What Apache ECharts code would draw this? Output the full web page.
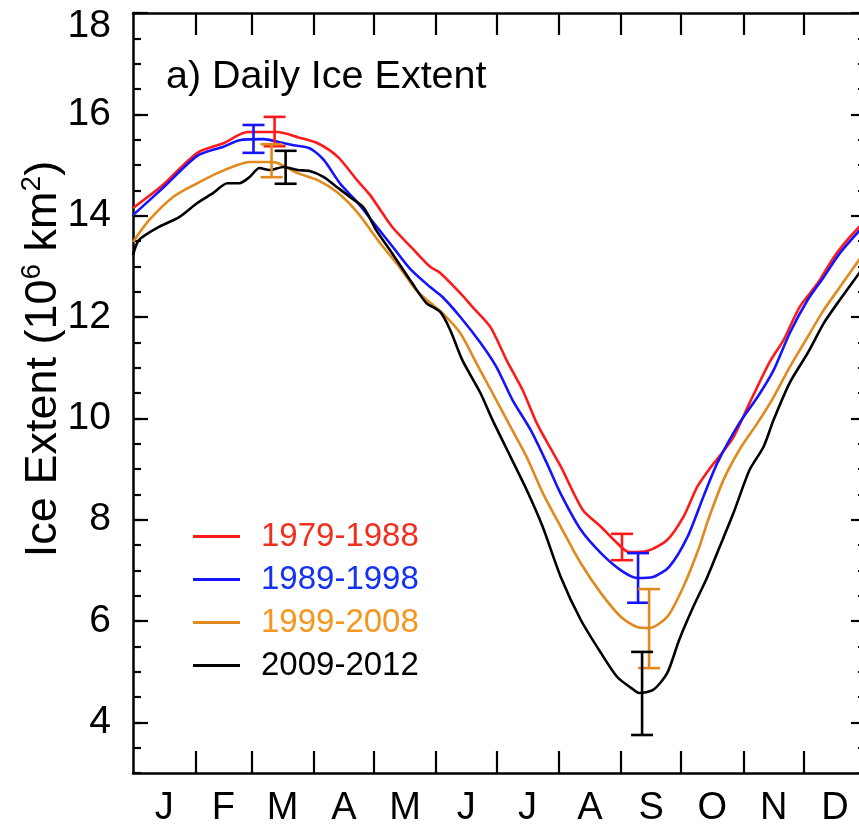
<!DOCTYPE html>
<html>
<head>
<meta charset="utf-8">
<script src="https://cdn.jsdelivr.net/npm/echarts@6/dist/echarts.min.js"></script>
<style>
  html, body { margin: 0; padding: 0; background: #fff; }
  #chart { width: 859px; height: 826px; }
</style>
</head>
<body>
<div id="chart"></div>
<script>
// Daily sea-ice extent climatology (10^6 km^2) by decade, day of year on x.
const FONT = '"Liberation Sans", Arial, Helvetica, sans-serif';

const monthLetters = ['J', 'F', 'M', 'A', 'M', 'J', 'J', 'A', 'S', 'O', 'N', 'D'];
const monthStartDays = [31, 59, 90, 120, 151, 181, 212, 243, 273, 304, 334];
const monthMidDays = [15.5, 45, 74.5, 105, 135.5, 166, 196.5, 227.5, 258, 288.5, 319, 349.5];
const yMajorTicks = [4, 6, 8, 10, 12, 14, 16, 18];

const seriesNames = ['1979-1988', '1989-1998', '1999-2008', '2009-2012'];

const days_1979_1988 = [0, 15, 32, 45, 57, 72, 82, 92, 102, 112, 118, 129, 139, 148, 153, 163, 169, 178, 186, 194, 201, 208, 213, 224, 233, 241, 247, 256, 266, 274, 281, 287, 292, 299, 307, 317, 324, 332, 341, 349, 357, 365];
const extent_1979_1988 = [14.15, 14.61, 15.24, 15.43, 15.65, 15.65, 15.55, 15.43, 15.16, 14.68, 14.41, 13.78, 13.36, 12.99, 12.87, 12.47, 12.20, 11.80, 11.15, 10.56, 9.91, 9.40, 9.05, 8.19, 7.86, 7.54, 7.36, 7.38, 7.60, 8.05, 8.65, 9.00, 9.25, 9.63, 10.30, 11.11, 11.55, 12.20, 12.67, 13.18, 13.58, 13.92];

const days_1989_1998 = [0, 15, 32, 45, 53, 65, 73, 80, 88, 95, 103, 112, 118, 123, 129, 138, 148, 154, 163, 173, 181, 189, 198, 206, 213, 223, 233, 243, 251, 259, 267, 276, 284, 291, 302, 311, 319, 327, 336, 344, 352, 365];
const extent_1989_1998 = [14.01, 14.55, 15.18, 15.36, 15.49, 15.51, 15.45, 15.39, 15.33, 15.10, 14.64, 14.25, 13.95, 13.70, 13.40, 12.95, 12.59, 12.40, 12.00, 11.49, 11.01, 10.36, 9.77, 9.12, 8.51, 7.80, 7.34, 7.00, 6.85, 6.87, 7.07, 7.65, 8.45, 9.12, 9.91, 10.42, 10.95, 11.68, 12.34, 12.79, 13.26, 13.85];

const days_1999_2008 = [0, 8, 20, 32, 42, 52, 58, 67, 72, 82, 92, 102, 112, 123, 133, 141, 148, 154, 163, 171, 179, 188, 196, 204, 213, 223, 233, 243, 251, 257, 266, 274, 282, 286, 294, 302, 311, 319, 327, 336, 344, 352, 365];
const extent_1999_2008 = [13.48, 13.91, 14.37, 14.64, 14.84, 15.00, 15.06, 15.06, 15.04, 14.84, 14.70, 14.45, 14.05, 13.46, 12.97, 12.53, 12.28, 12.08, 11.68, 11.09, 10.50, 9.83, 9.24, 8.53, 7.86, 7.14, 6.55, 6.08, 5.88, 5.86, 6.08, 6.67, 7.46, 7.95, 8.78, 9.38, 9.91, 10.42, 11.01, 11.61, 12.14, 12.59, 13.32];

const days_2009_2012 = [0, 3, 13, 23, 32, 40, 47, 53, 58, 63, 68, 75, 82, 88, 95, 102, 108, 115, 121, 129, 139, 146, 153, 158, 164, 173, 179, 188, 196, 204, 213, 223, 233, 241, 248, 252, 259, 266, 272, 279, 286, 292, 299, 307, 314, 319, 327, 336, 344, 352, 365];
const extent_2009_2012 = [13.22, 13.52, 13.78, 13.97, 14.25, 14.45, 14.64, 14.64, 14.76, 14.94, 14.90, 14.96, 14.90, 14.88, 14.76, 14.55, 14.37, 14.15, 13.72, 13.26, 12.67, 12.28, 12.10, 11.74, 11.15, 10.50, 9.97, 9.24, 8.59, 7.86, 6.87, 6.02, 5.37, 4.90, 4.68, 4.58, 4.64, 4.97, 5.63, 6.28, 6.87, 7.45, 8.13, 8.98, 9.44, 9.97, 10.70, 11.29, 11.88, 12.34, 13.05];

// Spread at the seasonal maximum and minimum: [day, low, high]
const spread_1979_1988 = [[70.5, 15.37, 15.95], [243.5, 7.20, 7.72]];
const spread_1989_1998 = [[60, 15.24, 15.79], [251.5, 6.36, 7.34]];
const spread_1999_2008 = [[69, 14.76, 15.41], [257, 5.07, 6.63]];
const spread_2009_2012 = [[76, 14.63, 15.28], [253.5, 3.75, 5.39]];

const lineColors = ['#ff1a1a', '#1414ff', '#e08a1e', '#000000'];
const legendTextColors = ['#f0301e', '#1432f0', '#f5961e', '#000000'];

const dayArrays = [days_1979_1988, days_1989_1998, days_1999_2008, days_2009_2012];
const extentArrays = [extent_1979_1988, extent_1989_1998, extent_1999_2008, extent_2009_2012];
const spreadArrays = [spread_1979_1988, spread_1989_1998, spread_1999_2008, spread_2009_2012];

function pairUp(xs, ys) {
  return xs.map((x, i) => [x, ys[i]]);
}

function renderSpread(params, api) {
  const day = api.value(0);
  const lo = api.coord([day, api.value(1)]);
  const hi = api.coord([day, api.value(2)]);
  const half = 11;
  const style = { stroke: api.visual('color'), lineWidth: 2.6 };
  return {
    type: 'group',
    children: [
      { type: 'line', shape: { x1: lo[0], y1: hi[1], x2: lo[0], y2: lo[1] }, style },
      { type: 'line', shape: { x1: lo[0] - half, y1: hi[1], x2: lo[0] + half, y2: hi[1] }, style },
      { type: 'line', shape: { x1: lo[0] - half, y1: lo[1], x2: lo[0] + half, y2: lo[1] }, style }
    ]
  };
}

const axisColor = '#000';
const frameLine = { show: true, lineStyle: { color: axisColor, width: 2.5 } };

const series = [];
seriesNames.forEach((name, i) => {
  series.push({
    name: name,
    type: 'line',
    data: pairUp(dayArrays[i], extentArrays[i]),
    showSymbol: false,
    smooth: 0.25,
    color: lineColors[i],
    lineStyle: { width: 2.6, color: lineColors[i] },
    z: 3 + i
  });
});
seriesNames.forEach((name, i) => {
  series.push({
    name: name + ' spread',
    type: 'custom',
    renderItem: renderSpread,
    data: spreadArrays[i],
    encode: { x: 0, y: [1, 2] },
    itemStyle: { color: lineColors[i] },
    z: 8
  });
});

const chart = echarts.init(document.getElementById('chart'), null, { renderer: 'canvas' });
chart.setOption({
  backgroundColor: '#fff',
  animation: false,
  textStyle: { fontFamily: FONT },
  grid: { left: 133, top: 13, width: 733, height: 760, containLabel: false, outerBoundsMode: 'none' },
  title: {
    text: 'a) Daily Ice Extent',
    left: 161, top: 52,
    textStyle: { fontFamily: FONT, fontSize: 39.5, fontWeight: 'normal', color: '#000' }
  },
  legend: {
    orient: 'vertical',
    left: 193, top: 520,
    padding: 0,
    itemWidth: 47, itemHeight: 3,
    itemGap: 10,
    icon: 'rect',
    textStyle: { fontFamily: FONT, fontSize: 33, padding: [0, 0, 0, 16] },
    data: seriesNames.map((n, i) => ({ name: n, textStyle: { color: legendTextColors[i] } }))
  },
  graphic: [{
    type: 'text',
    x: 44, y: 359,
    rotation: Math.PI / 2,
    style: {
      text: '{t|Ice Extent (10}{s|6}{t| km}{s|2}{t|)}',
      align: 'center', verticalAlign: 'middle',
      rich: {
        t: { fontFamily: FONT, fontSize: 45, color: '#000', lineHeight: 52 },
        s: { fontFamily: FONT, fontSize: 28, color: '#000', lineHeight: 52, verticalAlign: 'top', padding: [0, 0, 10, 0] }
      }
    }
  }],
  xAxis: [{
    type: 'value', min: 0, max: 365, position: 'bottom',
    axisLine: frameLine,
    axisTick: { show: true, inside: true, length: 22, customValues: monthStartDays, lineStyle: { color: axisColor, width: 2.2 } },
    axisLabel: {
      show: true, customValues: monthMidDays, margin: 17,
      fontFamily: FONT, fontSize: 38, color: '#000',
      formatter: v => monthLetters[monthMidDays.indexOf(v)]
    },
    splitLine: { show: false }
  }, {
    type: 'value', min: 0, max: 365, position: 'top',
    axisLine: frameLine,
    axisTick: { show: true, inside: true, length: 22, customValues: monthStartDays, lineStyle: { color: axisColor, width: 2.2 } },
    axisLabel: { show: false },
    splitLine: { show: false }
  }],
  yAxis: [{
    type: 'value', min: 3, max: 18, position: 'left',
    axisLine: frameLine,
    axisTick: { show: true, inside: true, length: 15, customValues: yMajorTicks, lineStyle: { color: axisColor, width: 2.2 } },
    axisLabel: {
      show: true, customValues: yMajorTicks, margin: 22,
      fontFamily: FONT, fontSize: 39, color: '#000',
      verticalAlignMaxLabel: 'top',
      formatter: v => (v === 18 ? '{edge|' + v + '}' : String(v)),
      rich: { edge: { fontFamily: FONT, fontSize: 39, color: '#000', lineHeight: 26 } }
    },
    splitLine: { show: false }
  }, {
    type: 'value', min: 3, max: 18, interval: 0.5, position: 'left',
    axisLine: { show: false },
    axisTick: { show: true, inside: true, length: 8, lineStyle: { color: axisColor, width: 2.2 } },
    axisLabel: { show: false },
    splitLine: { show: false }
  }, {
    type: 'value', min: 3, max: 18, position: 'right',
    axisLine: frameLine,
    axisTick: { show: true, inside: true, length: 15, customValues: yMajorTicks, lineStyle: { color: axisColor, width: 2.2 } },
    axisLabel: { show: false },
    splitLine: { show: false }
  }, {
    type: 'value', min: 3, max: 18, interval: 0.5, position: 'right',
    axisLine: { show: false },
    axisTick: { show: true, inside: true, length: 8, lineStyle: { color: axisColor, width: 2.2 } },
    axisLabel: { show: false },
    splitLine: { show: false }
  }],
  series: series
});
</script>
</body>
</html>
